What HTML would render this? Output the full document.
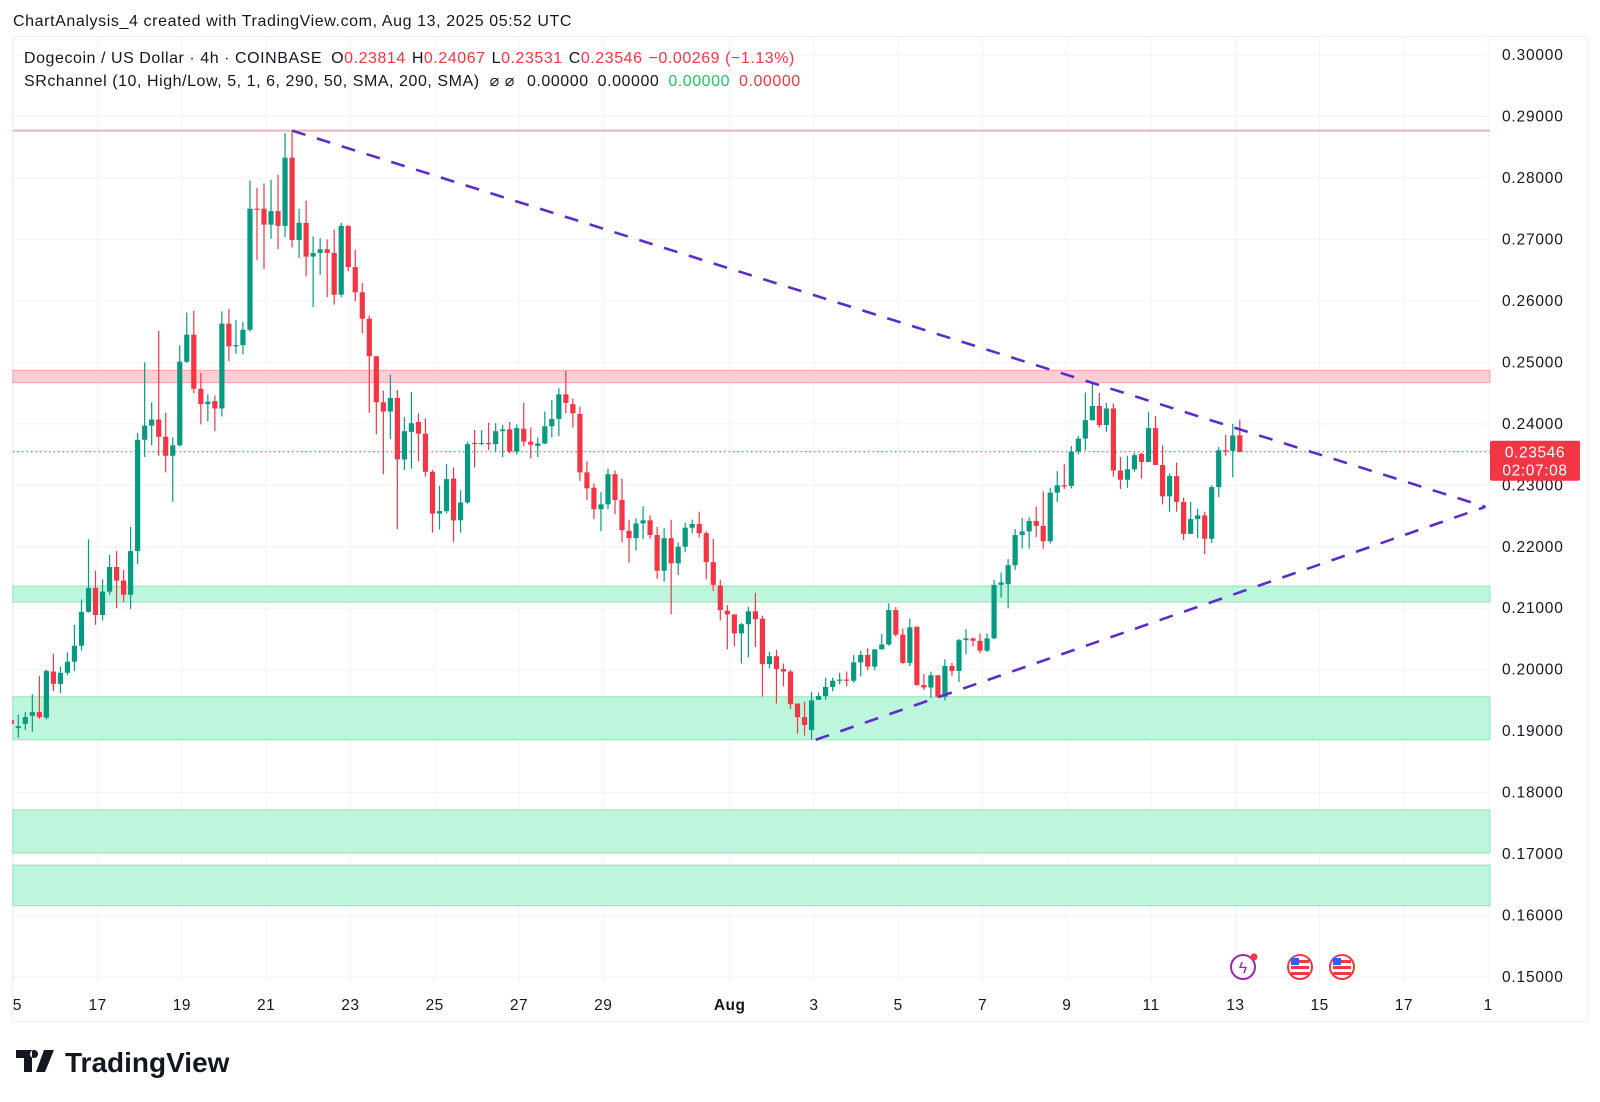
<!DOCTYPE html>
<html><head><meta charset="utf-8">
<style>
html,body{margin:0;padding:0;background:#fff;}
svg{display:block;font-family:"Liberation Sans",sans-serif;}
</style></head>
<body>
<svg id="chart" width="1600" height="1102" viewBox="0 0 1600 1102" xmlns="http://www.w3.org/2000/svg">
<rect x="0" y="0" width="1600" height="1102" fill="#fff"/>
<text x="13" y="26" font-size="16" letter-spacing="0.6" fill="#131722">ChartAnalysis_4 created with TradingView.com, Aug 13, 2025 05:52 UTC</text>
<rect x="12.5" y="36.5" width="1575" height="985" fill="none" stroke="#eef0f4"/>
<g id="grid"></g>
<g id="bands"></g>
<g id="candles"></g>
<g id="trend"></g>
<g id="axes"></g>
<g font-size="16" letter-spacing="0.55">
<text x="24" y="63" fill="#131722">Dogecoin / US Dollar · 4h · COINBASE <tspan dx="4">O</tspan><tspan fill="#f23645">0.23814</tspan><tspan dx="6">H</tspan><tspan fill="#f23645">0.24067</tspan><tspan dx="6">L</tspan><tspan fill="#f23645">0.23531</tspan><tspan dx="6">C</tspan><tspan fill="#f23645">0.23546</tspan><tspan dx="6" fill="#f23645">−0.00269 (−1.13%)</tspan></text>
<text x="24" y="86" fill="#131722">SRchannel (10, High/Low, 5, 1, 6, 290, 50, SMA, 200, SMA)<tspan dx="10">⌀ ⌀</tspan><tspan dx="12">0.00000</tspan><tspan dx="9">0.00000</tspan><tspan dx="9" fill="#22c55e">0.00000</tspan><tspan dx="9" fill="#f23645">0.00000</tspan></text>
</g>
<g>
<circle cx="1243" cy="967" r="12" fill="#fff" stroke="#9c27b0" stroke-width="2"/>
<text x="1243" y="973" font-size="16" text-anchor="middle" fill="#9c27b0">ϟ</text>
<circle cx="1254" cy="957" r="3.5" fill="#f23645"/>
<circle cx="1300" cy="967" r="12" fill="#fff" stroke="#f23645" stroke-width="2"/>
<rect x="1291" y="960" width="18" height="3" fill="#f23645"/><rect x="1291" y="966" width="18" height="3" fill="#f23645"/><rect x="1291" y="972" width="18" height="3" fill="#f23645"/>
<rect x="1291" y="958" width="8" height="7" fill="#2962ff"/>
<circle cx="1342" cy="967" r="12" fill="#fff" stroke="#f23645" stroke-width="2"/>
<rect x="1333" y="960" width="18" height="3" fill="#f23645"/><rect x="1333" y="966" width="18" height="3" fill="#f23645"/><rect x="1333" y="972" width="18" height="3" fill="#f23645"/>
<rect x="1333" y="958" width="8" height="7" fill="#2962ff"/>
</g>
<g>
<path d="M16 1050h16v22h-8v-14h-8z M34 1050a4 4 0 1 0 0.1 0z M44 1050h10l-9 22h-9z" fill="#131722"/>
<text x="65" y="1072" font-size="28" font-weight="bold" fill="#131722">TradingView</text>
</g>
</svg>
<script>
const yTicks = [0.30,0.29,0.28,0.27,0.26,0.25,0.24,0.23,0.22,0.21,0.20,0.19,0.18,0.17,0.16,0.15];
const dayTickIdx = [0,2,4,6,8,10,12,14,17,19,21,23,25,27,29,31,33,35];
const dayTickLabels = ["5","17","19","21","23","25","27","29","Aug","3","5","7","9","11","13","15","17","1"];
const startIndex = -1;
const opens = [.1918,.1905,.1912,.1925,.1931,.1922,.1997,.1977,.1995,.2013,.2039,.2094,.2133,.2089,.2127,.2167,.2145,.2122,.2193,.2374,.2397,.2407,.2379,.2348,.2365,.2501,.2545,.2457,.2432,.2437,.2425,.2563,.2526,.2528,.2553,.2750,.2750,.2724,.2746,.2722,.2833,.2699,.2727,.2672,.2678,.2684,.2678,.2610,.2722,.2655,.2614,.2571,.2510,.2435,.2420,.2442,.2342,
.2387,.2403,.2384,.2322,.2254,.2258,.2311,.2243,.2272,.2369,.2367,.2369,.2367,.2388,.2391,.2355,.2392,.2371,.2364,.2368,.2396,.2408,.2448,.2432,.2416,.2321,.2296,.2261,.2269,.2318,.2276,.2226,.2214,.2238,.2243,.2219,.2161,.2214,.2173,.2200,.2231,.2237,.2222,.2175,.2137,.2096,.2090,.2059,.2074,.2095,.2083,.2009,.2022,.2001,.1997,.1945,.1923,.1902,
.1951,.1957,.1972,.1982,.1984,.1982,.2012,.2024,.2005,.2033,.2041,.2097,.2057,.2011,.2070,.1975,.1971,.1991,.1956,.2006,.1998,.2048,.2051,.2047,.2031,.2051,.2138,.2139,.2170,.2219,.2225,.2242,.2234,.2209,.2288,.2300,.2299,.2355,.2376,.2406,.2429,.2398,.2425,.2324,.2309,.2326,.2351,.2338,.2393,.2333,.2282,.2315,.2273,.2221,.2245,.2251,.2213,.2297,.2357,.2356,.23814];
const highs = [.1975,.1927,.1931,.1960,.1990,.2000,.2026,.2005,.2028,.2073,.2114,.2212,.2161,.2147,.2187,.2193,.2162,.2232,.2385,.2500,.2435,.2551,.2418,.2378,.2528,.2581,.2584,.2483,.2448,.2446,.2583,.2587,.2569,.2566,.2796,.2784,.2791,.2797,.2805,.2873,.2877,.2750,.2763,.2705,.2702,.2700,.2716,.2727,.2723,.2683,.2629,.2576,.2510,.2454,.2480,.2455,.2411,
.2452,.2417,.2409,.2325,.2299,.2335,.2329,.2292,.2371,.2390,.2390,.2402,.2401,.2398,.2403,.2399,.2434,.2394,.2378,.2420,.2439,.2458,.2486,.2441,.2428,.2339,.2303,.2289,.2327,.2324,.2311,.2244,.2246,.2266,.2251,.2232,.2230,.2244,.2207,.2239,.2244,.2257,.2225,.2213,.2146,.2105,.2090,.2076,.2102,.2125,.2088,.2029,.2032,.2010,.2000,.1945,.1948,.1964,
.1963,.1987,.1987,.1995,.1997,.2024,.2031,.2035,.2034,.2058,.2108,.2102,.2067,.2083,.2070,.1993,.1997,.1991,.2017,.2011,.2050,.2066,.2052,.2059,.2059,.2146,.2158,.2180,.2229,.2247,.2248,.2265,.2290,.2296,.2323,.2334,.2364,.2380,.2451,.2467,.2450,.2434,.2433,.2346,.2348,.2353,.2353,.2419,.2413,.2365,.2319,.2337,.2280,.2273,.2262,.2257,.2300,.2362,.2382,.2400,.24067];
const lows = [.1906,.1889,.1902,.1899,.1920,.1919,.1965,.1962,.1991,.1998,.2031,.2093,.2073,.2080,.2122,.2100,.2110,.2099,.2172,.2346,.2365,.2348,.2321,.2273,.2363,.2499,.2450,.2399,.2404,.2388,.2412,.2502,.2514,.2513,.2550,.2666,.2652,.2701,.2684,.2704,.2687,.2670,.2640,.2590,.2642,.2606,.2594,.2606,.2648,.2599,.2547,.2418,.2383,.2318,.2375,.2229,.2325,
.2327,.2339,.2314,.2223,.2228,.2254,.2208,.2223,.2270,.2329,.2365,.2357,.2354,.2346,.2352,.2350,.2364,.2344,.2346,.2367,.2378,.2380,.2417,.2394,.2307,.2276,.2245,.2225,.2261,.2253,.2207,.2174,.2194,.2212,.2213,.2148,.2143,.2090,.2154,.2191,.2222,.2215,.2147,.2128,.2080,.2033,.2038,.2010,.2020,.2037,.1956,.2002,.1945,.1973,.1936,.1896,.1893,.1886,
.1951,.1951,.1965,.1976,.1973,.1979,.1989,.1999,.1999,.2033,.2039,.2054,.2009,.2006,.1974,.1967,.1954,.1954,.1950,.1990,.1980,.2025,.2038,.2027,.2029,.2050,.2117,.2100,.2162,.2197,.2197,.2216,.2197,.2205,.2273,.2294,.2295,.2350,.2357,.2405,.2394,.2387,.2314,.2294,.2296,.2322,.2311,.2338,.2333,.2269,.2257,.2257,.2211,.2221,.2214,.2188,.2206,.2281,.2348,.2313,.23531];
const closes = [.1912,.1908,.1923,.1931,.1923,.1998,.1977,.1995,.2013,.2039,.2094,.2133,.2089,.2127,.2167,.2145,.2122,.2193,.2374,.2397,.2407,.2379,.2348,.2365,.2501,.2545,.2457,.2432,.2436,.2425,.2563,.2526,.2528,.2553,.2750,.2748,.2724,.2746,.2722,.2833,.2699,.2727,.2672,.2678,.2684,.2678,.2610,.2722,.2655,.2614,.2571,.2510,.2435,.2420,.2442,.2342,.2388,
.2401,.2384,.2322,.2254,.2258,.2310,.2243,.2272,.2367,.2367,.2369,.2367,.2388,.2391,.2355,.2393,.2371,.2366,.2368,.2396,.2408,.2448,.2434,.2417,.2321,.2295,.2261,.2269,.2318,.2276,.2227,.2214,.2238,.2243,.2219,.2161,.2214,.2173,.2200,.2231,.2237,.2222,.2175,.2138,.2097,.2090,.2059,.2074,.2095,.2082,.2009,.2022,.2001,.1997,.1944,.1923,.1910,.1950,
.1957,.1972,.1982,.1984,.1982,.2012,.2024,.2005,.2033,.2041,.2097,.2057,.2011,.2069,.1975,.1971,.1991,.1956,.2006,.1998,.2048,.2051,.2047,.2031,.2051,.2138,.2142,.2170,.2219,.2225,.2242,.2234,.2209,.2288,.2300,.2299,.2355,.2376,.2406,.2429,.2398,.2425,.2324,.2309,.2326,.2349,.2338,.2393,.2333,.2282,.2315,.2273,.2221,.2245,.2251,.2213,.2297,.2357,.2356,.2381,.23546];
const lastPrice = 0.23546;
const redLine = 0.2877;
const redZone = [0.2487, 0.2467];
const greenZones = [[0.2136,0.2110],[0.1956,0.1886],[0.1772,0.1702],[0.1682,0.1616]];
const upperTrend = [[39,0.2877],[209,0.2265]];
const lowerTrend = [[113.6,0.1886],[209,0.2265]];

const NS = "http://www.w3.org/2000/svg";
const PL = 13, PR = 1490, PT = 37, PB = 983;
function yScale(p){ return 55 + (0.30 - p) * 6147; }
function xCandle(i){ return 18.3 + 7.02 * i; }
function xDay(d){ return 13.3 + 42.14 * d; }
function mk(tag, attrs, parent){ const e=document.createElementNS(NS,tag); for(const k in attrs) e.setAttribute(k,attrs[k]); parent.appendChild(e); return e; }

const grid = document.getElementById('grid');
const axes = document.getElementById('axes');
yTicks.forEach(function(t){
  const y = yScale(t);
  const g = mk('line',{x1:PL,x2:PR,y1:y,y2:y,stroke:'#f0f3fa','stroke-width':1},grid);
  
  
  const lb = mk('text',{x:1502,y:y+5,'font-size':15.5,'letter-spacing':0.8,fill:'#131722'},axes);
  lb.textContent = t.toFixed(5);
  
  
});
dayTickIdx.forEach(function(d,k){
  const x = xDay(d);
  const g = mk('line',{x1:x,x2:x,y1:PT,y2:PB,stroke:'#f0f3fa','stroke-width':1},grid);
  
  
  const lx = k===0 ? x+4 : x;
  const lb = mk('text',{x:lx,y:1010,'font-size':15.5,'letter-spacing':0.5,fill:'#131722','text-anchor':'middle','font-weight':dayTickLabels[k]==='Aug'?'bold':'normal'},axes);
  lb.textContent = dayTickLabels[k];
  
  
});

const bands = document.getElementById('bands');
const rl = mk('line',{x1:PL,x2:PR,y1:yScale(redLine),y2:yScale(redLine),stroke:'#f7b0b6','stroke-width':2},bands);


function zone(z,fill,stroke,name){
  const y1=yScale(z[0]), y2=yScale(z[1]);
  const r = mk('rect',{x:PL,y:y1,width:PR-PL,height:y2-y1,fill:fill,stroke:stroke,'stroke-width':1},bands);
  
  
}
zone(redZone,'#fccdd2','#f5a3ab','resistance-zone');
greenZones.forEach(function(z){ zone(z,'#bdf5dd','#8fe6bb','support-zone'); });

const cg = document.getElementById('candles');
const pl = mk('line',{x1:PL,x2:PR,y1:yScale(lastPrice),y2:yScale(lastPrice),stroke:'#f23645','stroke-width':1,'stroke-dasharray':'1.5 3'},cg);


for(let k=0;k<closes.length;k++){
  const i = startIndex + k;
  const x = xCandle(i);
  const o=opens[k], c=closes[k], h=highs[k], l=lows[k];
  const col = c>=o ? '#089981' : '#f23645';
  const g = mk('g',{},cg);
  
  
  mk('line',{x1:x,x2:x,y1:yScale(h),y2:yScale(l),stroke:col,'stroke-width':1.2},g);
  const yt=yScale(Math.max(o,c)), yb=yScale(Math.min(o,c));
  mk('rect',{x:x-2.6,y:yt,width:5.2,height:Math.max(1.2,yb-yt),fill:col},g);
}
mk('rect',{x:0,y:37,width:12,height:950,fill:'#fff'},cg);

const tg = document.getElementById('trend');
[[upperTrend,'upper-trendline'],[lowerTrend,'lower-trendline']].forEach(function(p){
  const t=p[0];
  const ln = mk('line',{x1:xCandle(t[0][0]),y1:yScale(t[0][1]),x2:xCandle(t[1][0]),y2:yScale(t[1][1]),stroke:'#5b2ec7','stroke-width':2.6,'stroke-dasharray':'14 12'},tg);
  
  
});

const yl = yScale(lastPrice);
const box = mk('rect',{x:1490,y:yl-11,width:90,height:40,rx:2,fill:'#f23645'},axes);


const t1 = mk('text',{x:1535,y:yl+6,'font-size':15.5,'letter-spacing':0.6,fill:'#fff','text-anchor':'middle'},axes);
t1.textContent = lastPrice.toFixed(5);


const t2 = mk('text',{x:1535,y:yl+24,'font-size':15.5,'letter-spacing':0.6,fill:'#fff','text-anchor':'middle'},axes);
t2.textContent = '02:07:08';


</script>
</body></html>
